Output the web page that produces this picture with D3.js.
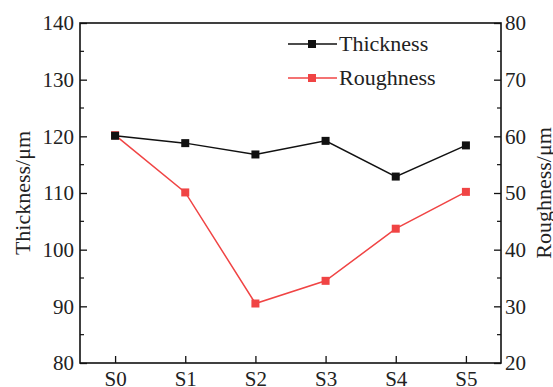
<!DOCTYPE html>
<html>
<head>
<meta charset="utf-8">
<script src="https://cdn.jsdelivr.net/npm/d3@7"></script>
<style>
  html, body { margin: 0; padding: 0; background: #fff; }
  svg { display: block; }
  text { font-family: "Liberation Serif", "Times New Roman", serif; fill: #222; }
</style>
</head>
<body>
<svg id="chart" width="553" height="387"></svg>
<script>
// Samples and measured values
const samples = ["S0", "S1", "S2", "S3", "S4", "S5"];
const thickness = [120.1, 118.8, 116.8, 119.2, 112.9, 118.4];
const roughness = [60.2, 50.1, 30.5, 34.5, 43.7, 50.2];
const leftTicks = [80, 90, 100, 110, 120, 130, 140];
const rightTicks = [20, 30, 40, 50, 60, 70, 80];

const W = 553, H = 387;
const m = { left: 80, right: 52, top: 23, bottom: 24 };
const iw = W - m.left - m.right, ih = H - m.top - m.bottom;
const red = "#f04444";

const svg = d3.select("#chart");
const g = svg.append("g").attr("transform", `translate(${m.left},${m.top})`);

const x = d3.scalePoint().domain(samples).range([0, iw]).padding(0.5);
const yL = d3.scaleLinear().domain([80, 140]).range([ih, 0]);
const yR = d3.scaleLinear().domain([20, 80]).range([ih, 0]);

// Frame
g.append("rect").attr("width", iw).attr("height", ih)
  .attr("fill", "none").attr("stroke", "#111").attr("stroke-width", 1.6);

function styleAxis(sel) {
  sel.select(".domain").remove();
  sel.selectAll(".tick line").attr("stroke", "#111").attr("stroke-width", 1.3);
  sel.selectAll("text").attr("font-size", 21).attr("fill", "#222")
    .style("font-family", '"Liberation Serif", serif');
}

// Minor ticks (half steps)
const minorL = d3.range(85, 140, 10);
const minorR = d3.range(25, 80, 10);
g.selectAll(".minL").data(minorL).join("line")
  .attr("x1", 0).attr("x2", 4).attr("y1", d => yL(d)).attr("y2", d => yL(d))
  .attr("stroke", "#111").attr("stroke-width", 1.2);
g.selectAll(".minR").data(minorR).join("line")
  .attr("x1", iw).attr("x2", iw - 4).attr("y1", d => yR(d)).attr("y2", d => yR(d))
  .attr("stroke", "#111").attr("stroke-width", 1.2);

// Axes with inward ticks
const axL = g.append("g").call(d3.axisLeft(yL).tickValues(leftTicks).tickSizeInner(-7).tickPadding(6));
styleAxis(axL);
const axR = g.append("g").attr("transform", `translate(${iw},0)`)
  .call(d3.axisRight(yR).tickValues(rightTicks).tickSizeInner(-7).tickPadding(4));
styleAxis(axR);
const axB = g.append("g").attr("transform", `translate(0,${ih})`)
  .call(d3.axisBottom(x).tickSizeInner(-7).tickPadding(8));
styleAxis(axB);

// Axis titles
svg.append("text").attr("transform", `translate(30,${m.top + ih / 2}) rotate(-90)`)
  .attr("text-anchor", "middle").attr("font-size", 22).text("Thickness/μm");
svg.append("text").attr("transform", `translate(${W - 2},${m.top + ih / 2}) rotate(-90)`)
  .attr("text-anchor", "middle").attr("font-size", 22).text("Roughness/μm");

// Series
const lineL = d3.line().x((d, i) => x(samples[i])).y(d => yL(d));
const lineR = d3.line().x((d, i) => x(samples[i])).y(d => yR(d));

g.append("path").datum(roughness).attr("d", lineR)
  .attr("fill", "none").attr("stroke", red).attr("stroke-width", 1.5);
g.append("path").datum(thickness).attr("d", lineL)
  .attr("fill", "none").attr("stroke", "#111").attr("stroke-width", 1.5);

const ms = 8;
g.selectAll(".mR").data(roughness).join("rect")
  .attr("x", (d, i) => x(samples[i]) - ms / 2).attr("y", d => yR(d) - ms / 2)
  .attr("width", ms).attr("height", ms).attr("fill", red);
g.selectAll(".mL").data(thickness).join("rect")
  .attr("x", (d, i) => x(samples[i]) - ms / 2).attr("y", d => yL(d) - ms / 2)
  .attr("width", ms).attr("height", ms).attr("fill", "#111");

// Legend
const legend = [
  { name: "Thickness", color: "#111", y: 44 },
  { name: "Roughness", color: red, y: 78 }
];
const lg = svg.append("g");
legend.forEach(d => {
  lg.append("line").attr("x1", 288).attr("x2", 337).attr("y1", d.y).attr("y2", d.y)
    .attr("stroke", d.color).attr("stroke-width", 1.5);
  lg.append("rect").attr("x", 312 - ms / 2).attr("y", d.y - ms / 2)
    .attr("width", ms).attr("height", ms).attr("fill", d.color);
  lg.append("text").attr("x", 339).attr("y", d.y + 7).attr("font-size", 22).text(d.name);
});
</script>
</body>
</html>
